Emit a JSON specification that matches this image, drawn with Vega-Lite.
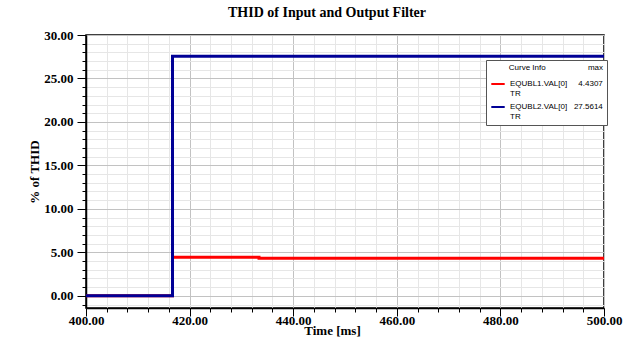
{
  "$schema": "https://vega.github.io/schema/vega-lite/v6.json",
  "autosize": {"type": "none"},
  "width": 518,
  "height": 273,
  "padding": {"left": 86, "top": 35, "right": 37, "bottom": 41},
  "background": "white",
  "title": {"text": "THID of Input and Output Filter", "font": "Liberation Serif", "fontSize": 14, "fontWeight": "bold", "color": "black", "anchor": "middle", "offset": 9, "dx": -18},
  "data": {"values": [
    {"series": "EQUBL1.VAL[0]", "t": 400, "v": 0},
    {"series": "EQUBL1.VAL[0]", "t": 416.7, "v": 4.43},
    {"series": "EQUBL1.VAL[0]", "t": 433.4, "v": 4.33},
    {"series": "EQUBL1.VAL[0]", "t": 500, "v": 4.33},
    {"series": "EQUBL2.VAL[0]", "t": 400, "v": 0},
    {"series": "EQUBL2.VAL[0]", "t": 416.7, "v": 27.56},
    {"series": "EQUBL2.VAL[0]", "t": 500, "v": 27.56}
  ]},
  "encoding": {
    "x": {"field": "t", "type": "quantitative",
      "scale": {"domain": [400, 500], "nice": false, "zero": false},
      "axis": {
        "values": [400,404,408,412,416,420,424,428,432,436,440,444,448,452,456,460,464,468,472,476,480,484,488,492,496,500],
        "labelExpr": "datum.value % 20 === 0 ? format(datum.value, '.2f') : ''",
        "gridColor": {"condition": {"test": "datum.value % 20 === 0", "value": "#c2c2c2"}, "value": "#e6e6e6"},
        "tickSize": {"condition": {"test": "datum.value % 20 === 0", "value": 8}, "value": 4},
        "labelPadding": -2,
        "title": "Time [ms]", "titlePadding": -3, "titleX": 246
      }},
    "y": {"field": "v", "type": "quantitative",
      "scale": {"domain": [-1.4, 30], "nice": false, "zero": false},
      "axis": {
        "values": [-1,0,1,2,3,4,5,6,7,8,9,10,11,12,13,14,15,16,17,18,19,20,21,22,23,24,25,26,27,28,29,30],
        "labelExpr": "datum.value % 5 === 0 ? format(datum.value, '.2f') : ''",
        "gridColor": {"condition": {"test": "datum.value % 5 === 0", "value": "#c2c2c2"}, "value": "#e6e6e6"},
        "tickSize": {"condition": {"test": "datum.value % 5 === 0", "value": 9}, "value": 4},
        "labelPadding": 4,
        "title": "% of THID", "titlePadding": 2
      }},
    "color": {"field": "series", "type": "nominal",
      "scale": {"domain": ["EQUBL1.VAL[0]", "EQUBL2.VAL[0]"], "range": ["#ff0000", "#000096"]},
      "legend": {
        "orient": "none", "legendX": 400, "legendY": 25,
        "title": "Curve Info\u00a0\u00a0\u00a0\u00a0\u00a0\u00a0\u00a0\u00a0\u00a0\u00a0\u00a0\u00a0\u00a0\u00a0\u00a0\u00a0\u00a0\u00a0\u00a0max",
        "titleAnchor": "end", "titlePadding": 4,
        "titleFont": "Liberation Sans", "titleFontSize": 8, "titleFontWeight": "normal", "titleColor": "black",
        "labelFont": "Liberation Sans", "labelFontSize": 8, "labelFontWeight": "normal", "labelColor": "black",
        "labelExpr": "datum.label === 'EQUBL1.VAL[0]' ? ['EQUBL1.VAL[0]\u00a0\u00a0\u00a0\u00a0\u00a04.4307', 'TR'] : ['EQUBL2.VAL[0]\u00a0\u00a0\u00a027.5614', 'TR']",
        "fillColor": "white", "strokeColor": "#555555", "padding": 4,
        "symbolType": "stroke", "symbolStrokeWidth": 2, "symbolSize": 180, "rowPadding": 1
      }}
  },
  "layer": [
    {"transform": [{"filter": "datum.series === 'EQUBL1.VAL[0]'"}], "mark": {"type": "line", "interpolate": "step-after", "strokeWidth": 3, "clip": true}},
    {"transform": [{"filter": "datum.series === 'EQUBL2.VAL[0]'"}], "mark": {"type": "line", "interpolate": "step-after", "strokeWidth": 3, "clip": true}}
  ],
  "config": {
    "view": {"stroke": "black", "strokeWidth": 1.5},
    "axis": {
      "tickColor": "black", "domainColor": "black", "domainWidth": 1.5,
      "labelFont": "Liberation Serif", "labelFontSize": 13, "labelFontWeight": "bold", "labelColor": "black",
      "labelOverlap": false, "labelFlush": false,
      "titleFont": "Liberation Serif", "titleFontSize": 13, "titleFontWeight": "bold", "titleColor": "black"
    }
  }
}
